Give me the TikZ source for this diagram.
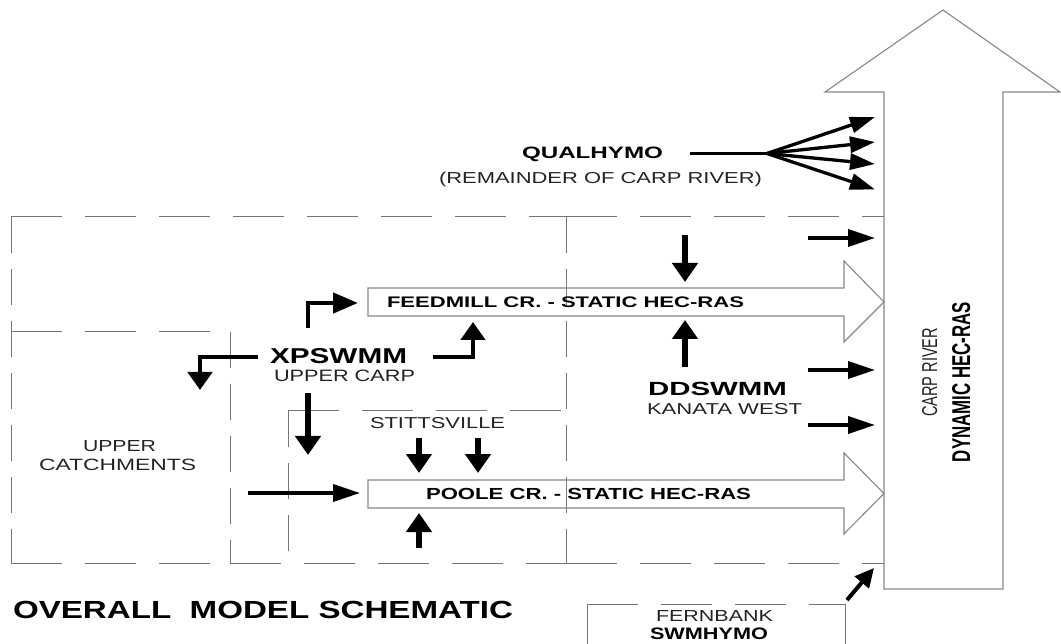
\documentclass[tikz,border=0pt]{standalone}
\usepackage{fontspec}
\setmainfont{Liberation Sans}
\usetikzlibrary{arrows.meta}
\newcommand\fittext[3]{\resizebox{#1pt}{#2pt}{#3}}
\definecolor{lineg}{RGB}{118,118,118}
\definecolor{arrg}{RGB}{135,135,135}
\definecolor{txtg}{RGB}{35,35,35}
\begin{document}
\begin{tikzpicture}[x=1pt,y=-1pt,
  hd/.style={draw=lineg, line width=1pt, dash pattern=on 51pt off 23pt},
  vd/.style={draw=lineg, line width=1pt, dash pattern=on 36pt off 16pt},
  solidg/.style={draw=lineg, line width=1pt},
  hollow/.style={draw=arrg, line width=1.1pt, line join=miter},
  harr/.style={line width=3.8pt, -{Triangle[length=27pt,width=17pt]}},
  varr/.style={line width=5.5pt, -{Triangle[length=19pt,width=25pt]}},
  fanarr/.style={line width=3.3pt, -{Triangle[length=25pt,width=16pt]}},
  lharr/.style={line width=4.5pt, line join=miter, -{Triangle[length=25pt,width=20pt]}},
  lvarr/.style={line width=4.5pt, line join=miter, -{Triangle[length=18pt,width=24pt]}},
  lbl/.style={inner sep=0pt, outer sep=0pt, anchor=base west, text=black},
  lblr/.style={inner sep=0pt, outer sep=0pt, anchor=base west, text=txtg}]
\useasboundingbox (0,0) rectangle (1061,644);

% ---------- dashed catchment boxes ----------
\draw[hd] (11,217) -- (566,217);
\draw[hd] (566,217) -- (884,217);
\draw[vd] (11,217) -- (11,563);
\draw[hd] (11,563) -- (230,563);
\draw[hd] (230,563) -- (566,563);
\draw[hd] (566,563) -- (884,563);
\draw[vd] (566,217) -- (566,563);
\draw[hd] (11,332) -- (230,332);
\draw[vd] (230,332) -- (230,563);
\draw[hd] (288,411) -- (566,411);
\draw[vd] (288,411) -- (288,563);
% Fernbank box
\draw[hd] (587,604) -- (845,604);
\draw[solidg] (587,604) -- (587,644);
\draw[solidg] (845,604) -- (845,644);

% ---------- hollow arrows ----------
\draw[hollow] (884,589) -- (884,92) -- (825,92) -- (943,10) -- (1060,92) -- (1003,92) -- (1003,589) -- cycle;
\draw[hollow] (368,288) -- (844,288) -- (844,261) -- (884,302) -- (844,342) -- (844,316) -- (368,316) -- cycle;
\draw[hollow] (368,480) -- (844,480) -- (844,453) -- (884,493.5) -- (844,534) -- (844,508) -- (368,508) -- cycle;

% ---------- labels ----------
\node[lbl] (qual) at (522,159) {\fittext{141}{11.5}{\bfseries QUALHYMO}};
\node[lblr] (rem) at (439,183.3) {\fittext{323}{11.5}{(REMAINDER OF CARP RIVER)}};
\node[lbl] (feed) at (387,307.3) {\fittext{357}{10.7}{\bfseries FEEDMILL CR. - STATIC HEC-RAS}};
\node[lbl] (xp) at (270,363.3) {\fittext{137}{15}{\bfseries XPSWMM}};
\node[lblr] (uc) at (274,382) {\fittext{141}{11.5}{UPPER CARP}};
\node[lblr] (stit) at (370,428.3) {\fittext{135}{11}{STITTSVILLE}};
\node[lblr] (up1) at (83,451.7) {\fittext{73}{11}{UPPER}};
\node[lblr] (up2) at (39,470.7) {\fittext{157}{11.4}{CATCHMENTS}};
\node[lbl] (poole) at (426,499.5) {\fittext{325}{11.2}{\bfseries POOLE CR. - STATIC HEC-RAS}};
\node[lbl] (title) at (13,618.3) {\fittext{500}{17.3}{\bfseries OVERALL\ \ MODEL SCHEMATIC}};
\node[lbl] (dd) at (648,396) {\fittext{139}{13.3}{\bfseries DDSWMM}};
\node[lblr] (kw) at (647,415) {\fittext{155}{11}{KANATA WEST}};
\node[lblr, rotate=90] (cr) at (937,417) {\fittext{89}{15}{CARP RIVER}};
\node[lbl, rotate=90] (dyn) at (970,462) {\fittext{160}{18}{\bfseries DYNAMIC HEC-RAS}};
\node[lblr] (fern) at (656,621.7) {\fittext{117}{11}{FERNBANK}};
\node[lbl] (swm) at (650,639.3) {\fittext{118}{11.6}{\bfseries SWMHYMO}};

% ---------- connector end points ----------
\coordinate (qs) at (690,153.5);
\coordinate (fan) at (767,153.5);
\coordinate (f1) at (875,117);
\coordinate (f2) at (875,142);
\coordinate (f3) at (875,164);
\coordinate (f4) at (875,189.5);

\coordinate (xpup) at (308,328);
\coordinate (feedin) at (358,303);
\coordinate (xpr) at (433,357);
\coordinate (feedbot) at (473,322);
\coordinate (xpl) at (258,357);
\coordinate (ucin) at (200,390);
\coordinate (xpd) at (308,393);
\coordinate (xpdt) at (308,455);

\coordinate (s1a) at (419,438);  \coordinate (s1b) at (419,473);
\coordinate (s2a) at (478,438);  \coordinate (s2b) at (478,473);
\coordinate (pua) at (419,548);  \coordinate (pub) at (419,513);
\coordinate (pla) at (248,493);  \coordinate (plb) at (360,493);

\coordinate (dda) at (685,235);  \coordinate (ddb) at (685,282);
\coordinate (ddc) at (685,367);  \coordinate (ddd) at (685,320);

\coordinate (r1a) at (808,238);  \coordinate (r1b) at (875,238);
\coordinate (r2a) at (808,370);  \coordinate (r2b) at (875,370);
\coordinate (r3a) at (808,425);  \coordinate (r3b) at (875,425);

\coordinate (fba) at (847,600);  \coordinate (fbb) at (874,568);

% ---------- black arrows ----------
\draw[line width=3.5pt] (qs) -- (fan);
\foreach \t in {f1,f2,f3,f4} \draw[fanarr] (fan) -- (\t);

\draw[lharr] (xpup) |- (feedin);
\draw[lvarr] (xpr) -| (feedbot);
\draw[lvarr] (xpl) -| (ucin);
\draw[varr] (xpd) -- (xpdt);

\draw[varr] (s1a) -- (s1b);
\draw[varr] (s2a) -- (s2b);
\draw[varr] (pua) -- (pub);
\draw[harr] (pla) -- (plb);

\draw[varr] (dda) -- (ddb);
\draw[varr] (ddc) -- (ddd);

\draw[harr] (r1a) -- (r1b);
\draw[harr] (r2a) -- (r2b);
\draw[harr] (r3a) -- (r3b);

\draw[line width=4pt, -{Triangle[length=19pt,width=18pt]}] (fba) -- (fbb);
\end{tikzpicture}
\end{document}
